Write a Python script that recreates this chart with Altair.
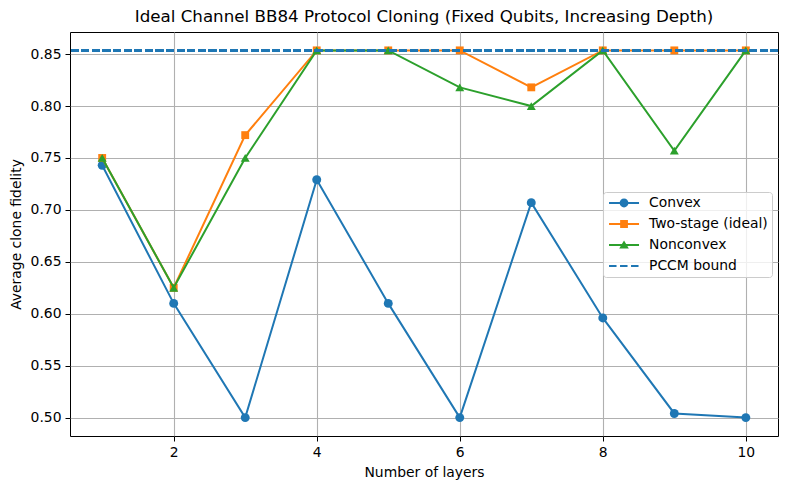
import altair as alt
import pandas as pd

# ---- data ----
layers = [1, 2, 3, 4, 5, 6, 7, 8, 9, 10]
convex = [0.743, 0.610, 0.500, 0.729, 0.610, 0.500, 0.707, 0.596, 0.504, 0.500]
two_stage = [0.750, 0.625, 0.772, 0.8536, 0.8536, 0.8536, 0.818, 0.8536, 0.8536, 0.8536]
nonconvex = [0.750, 0.625, 0.750, 0.8536, 0.8536, 0.818, 0.800, 0.8536, 0.757, 0.8536]
pccm_bound = 0.8536

series_names = ["Convex", "Two-stage (ideal)", "Nonconvex", "PCCM bound"]
series_colors = ["#1f77b4", "#ff7f0e", "#2ca02c", "#1f77b4"]
series_markers = ["circle", "square", "triangle-up"]
x_ticks = [2, 4, 6, 8, 10]
y_ticks = [0.50, 0.55, 0.60, 0.65, 0.70, 0.75, 0.80, 0.85]

frames = []
for name, vals in zip(series_names[:3], [convex, two_stage, nonconvex]):
    frames.append(pd.DataFrame({"layers": layers, "fidelity": vals, "series": name}))
df = pd.concat(frames, ignore_index=True)

FONT = "DejaVu Sans"
W, H = 708, 404

xscale = alt.Scale(domain=[0.55, 10.45], nice=False, zero=False)
yscale = alt.Scale(domain=[0.4823, 0.8713], nice=False, zero=False)

xenc = alt.X("layers:Q", scale=xscale,
             axis=alt.Axis(values=x_ticks, format="d", title="Number of layers"))
yenc = alt.Y("fidelity:Q", scale=yscale,
             axis=alt.Axis(values=y_ticks, format=".2f", title="Average clone fidelity"))

layers_list = []
marker_sizes = [80, 62, 80]
for i, name in enumerate(series_names[:3]):
    sub = alt.Chart(df).transform_filter(alt.datum.series == name)
    line = sub.mark_line(strokeWidth=2, color=series_colors[i]).encode(x=xenc, y=yenc)
    pts = sub.mark_point(filled=True, opacity=1, color=series_colors[i],
                         shape=series_markers[i], size=marker_sizes[i]).encode(x=xenc, y=yenc)
    layers_list += [line, pts]

rule = alt.Chart(df).mark_rule(color=series_colors[3], strokeWidth=2,
                               strokeDash=[7.4, 3.2]).encode(y=alt.datum(pccm_bound))

# ---- legend symbol paths (matplotlib-like handles: line + marker) ----
S = 14.0          # sqrt(symbol size) in px
k = S / 2.0       # px per path unit
off = -0.71       # left edge in path units
def u(px):
    return round(px / k + off, 3)
def uy(px):
    return round(px / k, 3)
HW = 30.0
t = 1.0
def rect(x0, x1, h):
    return f"M{u(x0)},{uy(-h)} L{u(x1)},{uy(-h)} L{u(x1)},{uy(h)} L{u(x0)},{uy(h)} Z "
line_path = rect(0, HW, t)
cx = HW / 2
r = 4.4
circle_p = (line_path + f"M{u(cx)},{uy(-r)} A{uy(r)},{uy(r)} 0 1,1 {u(cx)},{uy(r)} "
            f"A{uy(r)},{uy(r)} 0 1,1 {u(cx)},{uy(-r)} Z")
sq = 3.9
square_p = line_path + rect(cx - sq, cx + sq, sq)
th = 4.6
tw = 4.8
tri_p = line_path + f"M{u(cx)},{uy(-th)} L{u(cx + tw)},{uy(th*0.75)} L{u(cx - tw)},{uy(th*0.75)} Z"
dash_p = rect(0, 7.5, t) + rect(11, 18.5, t) + rect(22, 29.5, t)
legend_paths = [circle_p, square_p, tri_p, dash_p]

legend_cfg = alt.Legend(
    title=None, orient="none", legendX=533, legendY=160, direction="vertical",
    padding=4, rowPadding=7, labelOffset=28, symbolSize=S * S,
    symbolStrokeWidth=0, symbolOpacity=1, labelFont=FONT, labelFontSize=13.9,
    labelColor="black", fillColor="rgba(255,255,255,0.8)", strokeColor="#cccccc",
    cornerRadius=3, symbolType="circle",
)

leg_layer = alt.Chart(df).mark_point(filled=True, opacity=0).encode(
    x=xenc, y=yenc,
    color=alt.Color("series:N", scale=alt.Scale(domain=series_names, range=series_colors),
                    legend=legend_cfg, sort=series_names),
    shape=alt.Shape("series:N", scale=alt.Scale(domain=series_names, range=legend_paths),
                    legend=legend_cfg, sort=series_names),
)

chart = alt.layer(*layers_list, rule, leg_layer).properties(
    width=W, height=H,
    title=alt.TitleParams("Ideal Channel BB84 Protocol Cloning (Fixed Qubits, Increasing Depth)",
                          font=FONT, fontSize=16.7, fontWeight="normal", color="black",
                          anchor="middle", offset=6),
    autosize=alt.AutoSizeParams(type="none"),
    padding={"left": 62, "top": 24, "right": 4, "bottom": 46},
).configure_view(
    stroke="black", strokeWidth=1
).configure_axis(
    labelFont=FONT, labelFontSize=13.9, labelColor="black",
    titleFont=FONT, titleFontSize=13.9, titleColor="black", titleFontWeight="normal",
    tickColor="black", tickSize=5, tickWidth=1, labelPadding=4,
    domain=False, grid=True, gridColor="#b0b0b0", gridWidth=1.1, gridOpacity=1,
).configure_axisX(titlePadding=7).configure_axisY(titlePadding=7)

chart.save("out.html", embed_options={"renderer": "svg", "actions": False})
